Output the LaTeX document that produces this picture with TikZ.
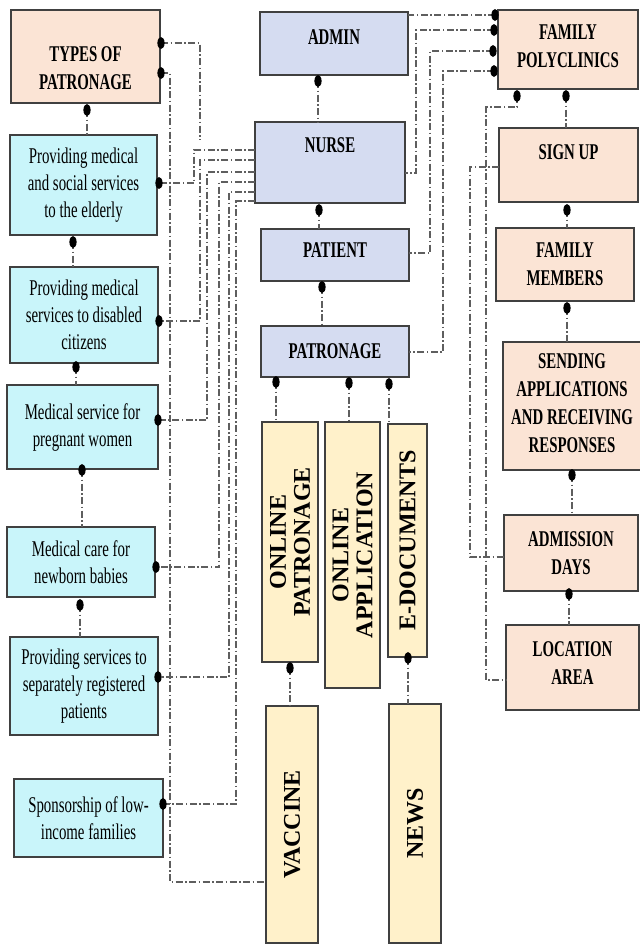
\documentclass[tikz,border=0pt]{standalone}
\usepackage{fontspec}
\setmainfont{Liberation Serif}
\newfontfamily\narrowserif[FakeStretch=0.66]{Liberation Serif}
\definecolor{peachfill}{HTML}{FBE4D5}
\definecolor{cyanfill}{HTML}{C9F5FA}
\definecolor{bluefill}{HTML}{D5DCF1}
\definecolor{sandfill}{HTML}{FFF1CA}
\definecolor{edge}{HTML}{404040}
\definecolor{wire}{HTML}{5E5E5E}
% move box contents up or down without changing the size TikZ sees
\newcommand{\nudge}[2]{\raisebox{#1}[\height][\depth]{#2}}
\begin{document}
\begin{tikzpicture}[x=1pt,y=-1pt,
  box/.style={draw=edge, line width=1.2pt, inner sep=0pt, outer sep=0pt, align=center},
  headbox/.style={box, font=\narrowserif\bfseries\fontsize{22.5}{28}\selectfont},
  peachbox/.style={headbox, fill=peachfill},
  bluebox/.style={headbox, fill=bluefill},
  servicebox/.style={box, fill=cyanfill, font=\narrowserif\fontsize{22.5}{27}\selectfont},
  sandbox/.style={box, fill=sandfill, rotate=90, font=\bfseries\fontsize{24}{24}\selectfont},
  link/.style={draw=wire, line width=1.1pt, dash pattern=on 7pt off 2.5pt on 1.5pt off 2.5pt},
]
\useasboundingbox (0,0) rectangle (640,946);
\fill[white] (0,0) rectangle (640,946);

% ---------- left column: types of patronage ----------
\node[peachbox, minimum width=149pt, minimum height=93pt] (types) at (85.5,56.5)
  {\nudge{-12pt}{\parbox{146pt}{\centering TYPES OF\\PATRONAGE}}};
\node[servicebox, minimum width=147pt, minimum height=100pt] (l1) at (83.5,185)
  {Providing medical\\and social services\\to the elderly};
\node[servicebox, minimum width=148pt, minimum height=96pt] (l2) at (84,315)
  {Providing medical\\services to disabled\\citizens};
\node[servicebox, minimum width=151pt, minimum height=84pt] (l3) at (82.5,427)
  {Medical service for\\pregnant women};
\node[servicebox, minimum width=148pt, minimum height=70pt] (l4) at (81,562)
  {Medical care for\\newborn babies};
\node[servicebox, minimum width=148pt, minimum height=98pt] (l5) at (84,686)
  {Providing services to\\separately registered\\patients};
\node[servicebox, minimum width=149pt, minimum height=78pt] (l6) at (88.5,818)
  {Sponsorship of low-\\income families};

% ---------- middle column ----------
\node[bluebox, minimum width=148pt, minimum height=63pt] (admin) at (334,43.5) {\nudge{6pt}{ADMIN}};
\node[bluebox, minimum width=150pt, minimum height=81pt] (nurse) at (330,162.5) {\nudge{17pt}{NURSE}};
\node[bluebox, minimum width=148pt, minimum height=52pt] (patient) at (335,255) {\nudge{5pt}{PATIENT}};
\node[bluebox, minimum width=148pt, minimum height=51pt] (patr) at (335,351.5) {PATRONAGE};

\node[sandbox, minimum width=240pt, minimum height=56pt] (onpat) at (290,542) {ONLINE\\PATRONAGE};
\node[sandbox, minimum width=266pt, minimum height=55pt] (onapp) at (352.5,555) {ONLINE\\APPLICATION};
\node[sandbox, minimum width=233pt, minimum height=39pt] (edoc) at (407.5,540.5) {E-DOCUMENTS};
\node[sandbox, minimum width=237pt, minimum height=52pt] (vacc) at (292,824.5) {VACCINE};
\node[sandbox, minimum width=239pt, minimum height=52pt] (news) at (415,823.5) {NEWS};

% ---------- right column ----------
\node[peachbox, minimum width=140pt, minimum height=79pt] (fp) at (568,49.5) {\nudge{3pt}{\parbox{136pt}{\centering FAMILY\\POLYCLINICS}}};
\node[peachbox, minimum width=139pt, minimum height=74pt] (signup) at (568.5,165) {\nudge{13pt}{SIGN UP}};
\node[peachbox, minimum width=138pt, minimum height=73pt] (fm) at (565,264.5) {FAMILY\\MEMBERS};
\node[peachbox, minimum width=138pt, minimum height=128pt] (send) at (572,406)
  {\nudge{3pt}{\parbox{136pt}{\centering SENDING\\APPLICATIONS\\AND RECEIVING\\RESPONSES}}};
\node[peachbox, minimum width=134pt, minimum height=76pt] (adm) at (571,553) {ADMISSION\\DAYS};
\node[peachbox, minimum width=133pt, minimum height=85pt] (loc) at (572.5,667.5) {\nudge{4pt}{\parbox{130pt}{\centering LOCATION\\AREA}}};

% ---------- connection points ----------
\coordinate (tA) at (161,43);   \coordinate (tB) at (161,73);  \coordinate (tS) at (87,110);
\coordinate (l1E) at (159,183); \coordinate (l1S) at (73,242);
\coordinate (l2E) at (159,321); \coordinate (l2S) at (76,367);
\coordinate (l3E) at (158,420); \coordinate (l3S) at (82,470);
\coordinate (l4E) at (156,567); \coordinate (l4S) at (80,605);
\coordinate (l5E) at (158,677);
\coordinate (l6E) at (163,804);
\coordinate (adS) at (318,81);  \coordinate (nuS) at (319,210); \coordinate (paS) at (322,287);
\coordinate (prA) at (276,382); \coordinate (prB) at (349,383); \coordinate (prC) at (389,384);
\coordinate (opS) at (290,668); \coordinate (edS) at (408,658);
\coordinate (fA) at (495,15);   \coordinate (fB) at (494,30);
\coordinate (fC) at (493,51);   \coordinate (fD) at (494,71);
\coordinate (fbA) at (517,96);  \coordinate (fbB) at (566,96);
\coordinate (suS) at (567,210); \coordinate (fmS) at (567,308);
\coordinate (seS) at (572,475); \coordinate (amS) at (569,594);
\coordinate (typesEnd) at (200,140);

% ---------- connectors: left column ----------
\draw[link] (tA) -| (typesEnd);
\draw[link] (tB) -| (170,882) -- (vacc.north |- 0,882);
\draw[link] (tS) -- (tS |- l1.north);
\draw[link] (l1S) -- (l1S |- l2.north);
\draw[link] (l2S) -- (l2S |- l3.north);
\draw[link] (l3S) -- (l3S |- l4.north);
\draw[link] (l4S) -- (l4S |- l5.north);

% nurse to each service
\draw[link] (nurse.west |- 0,150) -| (194,183) -- (l1E);
\draw[link] (nurse.west |- 0,160) -| (200,321) -- (l2E);
\draw[link] (nurse.west |- 0,172) -| (207,420) -- (l3E);
\draw[link] (nurse.west |- 0,182) -| (219,567) -- (l4E);
\draw[link] (nurse.west |- 0,192) -| (229,677) -- (l5E);
\draw[link] (nurse.west |- 0,201) -| (236,804) -- (l6E);

% ---------- connectors: middle column ----------
\draw[link] (adS) -- (adS |- nurse.north);
\draw[link] (nuS) -- (nuS |- patient.north);
\draw[link] (paS) -- (paS |- patr.north);
\draw[link] (prA) -- (prA |- onpat.east);
\draw[link] (prB) -- (prB |- onapp.east);
\draw[link] (prC) -- (prC |- edoc.east);
\draw[link] (opS) -- (opS |- vacc.east);
\draw[link] (edS) -- (edS |- news.east);

% ---------- connectors: to family polyclinics ----------
\draw[link] (fA) -- (admin.east |- fA);
\draw[link] (fB) -| (416,173) -- (nurse.east |- 0,173);
\draw[link] (fC) -| (430,253) -- (patient.east |- 0,253);
\draw[link] (fD) -| (443,352) -- (patr.east |- 0,352);
\draw[link] (fbA) |- (486,107) |- (loc.west |- 0,680);
\draw[link] (signup.west |- 0,167) -| (470,557) -- (adm.west |- 0,557);
\draw[link] (fbB) -- (fbB |- signup.north);
\draw[link] (suS) -- (suS |- fm.north);
\draw[link] (fmS) -- (fmS |- send.north);
\draw[link] (seS) -- (seS |- adm.north);
\draw[link] (amS) -- (amS |- loc.north);

% ---------- connection dots ----------
\foreach \d in {tA,tB,tS,l1E,l1S,l2E,l2S,l3E,l3S,l4E,l4S,l5E,l6E,
                adS,nuS,paS,prA,prB,prC,opS,edS,
                fA,fB,fC,fD,fbA,fbB,suS,fmS,seS,amS}
  \fill[black] (\d) ellipse (3.6 and 6);
\end{tikzpicture}
\end{document}
